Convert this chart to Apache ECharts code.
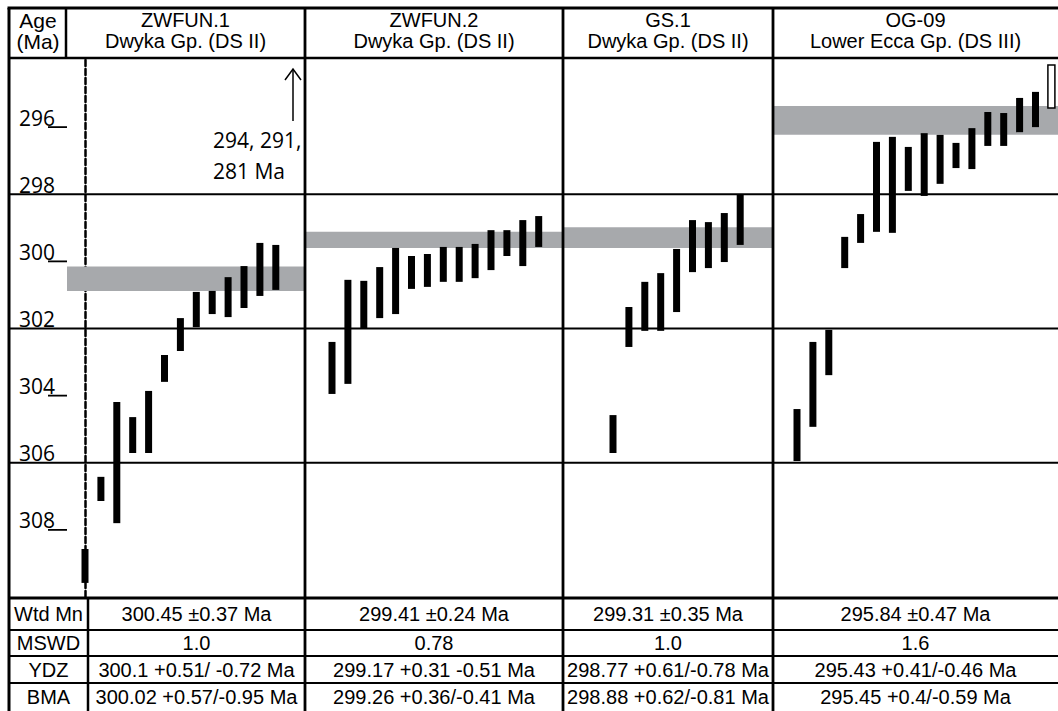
<!DOCTYPE html>
<html>
<head>
<meta charset="utf-8">
<script src="https://cdn.jsdelivr.net/npm/echarts@6/dist/echarts.min.js"></script>
<style>html,body{margin:0;padding:0;background:#fff;}#c{width:1058px;height:711px;}</style>
</head>
<body>
<div id="c"></div>
<script>
// ---------------- DATA ----------------
const panelNames = ['ZWFUN.1', 'ZWFUN.2', 'GS.1', 'OG-09'];
const panelUnits = ['Dwyka Gp. (DS II)', 'Dwyka Gp. (DS II)', 'Dwyka Gp. (DS II)', 'Lower Ecca Gp. (DS III)'];

// grain ages (Ma): young end / old end of each 2-sigma bar
const zw1Young = [308.57, 306.42, 304.19, 304.64, 303.86, 302.79, 301.69, 300.91, 300.88, 300.47, 300.14, 299.45, 299.51];
const zw1Old   = [309.58, 307.14, 307.80, 305.71, 305.71, 303.59, 302.67, 301.96, 301.57, 301.66, 301.39, 301.03, 300.85];

const zw2Young = [302.40, 300.55, 300.58, 300.17, 299.60, 299.84, 299.78, 299.57, 299.57, 299.48, 299.07, 299.07, 298.77, 298.65];
const zw2Old   = [303.95, 303.65, 301.99, 301.69, 301.57, 300.82, 300.76, 300.61, 300.61, 300.50, 300.26, 299.84, 300.14, 299.57];

const gs1Young = [304.58, 301.36, 300.61, 300.35, 299.63, 298.77, 298.83, 298.56, 298.02];
const gs1Old   = [305.71, 302.55, 302.07, 302.07, 301.51, 300.32, 300.20, 300.02, 299.51];

const og09Young = [304.40, 302.40, 302.04, 299.27, 298.59, 296.44, 296.29, 296.59, 296.18, 296.23, 296.47, 296.03, 295.55, 295.58, 295.13, 294.95, 294.15];
const og09Old   = [305.95, 304.93, 303.39, 300.20, 299.45, 299.12, 299.15, 297.90, 298.05, 297.69, 297.22, 297.25, 296.56, 296.56, 296.15, 296.00, 295.43];
// grains excluded from the weighted mean (drawn open)
const og09Excluded = [0, 0, 0, 0, 0, 0, 0, 0, 0, 0, 0, 0, 0, 0, 0, 0, 1];

// weighted-mean bands (Ma)
const bandYoung = [300.15, 299.12, 298.98, 295.37];
const bandOld   = [300.88, 299.60, 299.60, 296.23];

// age axis
const ageMin = 294, ageMax = 310;
const ageTicks = [296, 300, 304, 308];
const ageLabels = [296, 298, 300, 302, 304, 306, 308];
const ageGridLines = [298, 302, 306];

// summary table
const rowLabels = ['Wtd Mn', 'MSWD', 'YDZ', 'BMA'];
const wtdMean = ['300.45 ±0.37 Ma', '299.41 ±0.24 Ma', '299.31 ±0.35 Ma', '295.84 ±0.47 Ma'];
const mswd = ['1.0', '0.78', '1.0', '1.6'];
const ydz = ['300.1 +0.51/ -0.72 Ma', '299.17 +0.31 -0.51 Ma', '298.77 +0.61/-0.78 Ma', '295.43 +0.41/-0.46 Ma'];
const bma = ['300.02 +0.57/-0.95 Ma', '299.26 +0.36/-0.41 Ma', '298.88 +0.62/-0.81 Ma', '295.45 +0.4/-0.59 Ma'];

const offscaleNote = ['294, 291,', '281 Ma'];

// ---------------- LAYOUT ----------------
const L = 9, R = 1058, T = 8, HB = 58;
const tableRows = [598, 630, 656, 683, 711];
const labelColRight = 88;
const colEdges = [66, 305, 563, 773, 1058];
const gridLeft = [67, 305, 563, 773];
const gridWidth = [238, 258, 210, 285];
const firstBarPx = [18, 27, 50, 24];
const pitch = 15.9;
const plotTop = 60, plotH = 537;
const barW = 7;
const FONT = '"Liberation Sans", Arial, sans-serif';
const FONT2 = '"Open Sans", "Noto Sans", sans-serif';

const young = [zw1Young, zw2Young, gs1Young, og09Young];
const old = [zw1Old, zw2Old, gs1Old, og09Old];
const excl = [zw1Young.map(() => 0), zw2Young.map(() => 0), gs1Young.map(() => 0), og09Excluded];

const chart = echarts.init(document.getElementById('c'), null, { renderer: 'svg', width: 1058, height: 711 });

const grid = gridLeft.map((l, i) => ({ left: l, top: plotTop, width: gridWidth[i], height: plotH }));
const xAxis = gridLeft.map((l, i) => ({
  type: 'value', gridIndex: i, show: false,
  min: -firstBarPx[i] / pitch, max: (gridWidth[i] - firstBarPx[i]) / pitch
}));
const yAxis = gridLeft.map((l, i) => ({
  type: 'value', gridIndex: i, min: ageMin, max: ageMax, inverse: true, show: i === 0,
  axisLine: { show: true, lineStyle: { color: '#000', width: 2.5, type: [6, 3] } },
  axisTick: { show: false }, axisLabel: { show: false }, splitLine: { show: false }
}));

const series = [];
for (let i = 0; i < 4; i++) {
  series.push({
    type: 'custom', xAxisIndex: i, yAxisIndex: i, z: 1, silent: true,
    data: [[0, bandYoung[i], bandOld[i]]],
    encode: { x: 0, y: [1, 2] },
    renderItem: (params, api) => {
      const cs = params.coordSys;
      const y1 = api.coord([0, api.value(1)])[1];
      const y2 = api.coord([0, api.value(2)])[1];
      return { type: 'rect', shape: { x: cs.x, y: y1, width: cs.width, height: y2 - y1 }, style: { fill: '#a7a9ac' } };
    }
  });
  series.push({
    type: 'custom', xAxisIndex: i, yAxisIndex: i, z: 3, silent: true,
    data: young[i].map((y, j) => [j, y, old[i][j], excl[i][j]]),
    encode: { x: 0, y: [1, 2] },
    renderItem: (params, api) => {
      const p1 = api.coord([api.value(0), api.value(1)]);
      const p2 = api.coord([api.value(0), api.value(2)]);
      const open = api.value(3) === 1;
      return {
        type: 'rect',
        shape: { x: p1[0] - barW / 2, y: p1[1], width: barW, height: p2[1] - p1[1] },
        style: open ? { fill: '#fff', stroke: '#000', lineWidth: 1.5 } : { fill: '#000' }
      };
    }
  });
}
// horizontal age grid lines across the whole figure
series.push({
  type: 'custom', xAxisIndex: 0, yAxisIndex: 0, z: 2, silent: true,
  data: ageGridLines.map(v => [0, v]), encode: { x: 0, y: 1 },
  renderItem: (params, api) => {
    const y = api.coord([0, api.value(1)])[1];
    return { type: 'line', shape: { x1: L, y1: y, x2: R, y2: y }, style: { stroke: '#000', lineWidth: 2 } };
  }
});
// tick marks
series.push({
  type: 'custom', xAxisIndex: 0, yAxisIndex: 0, z: 2, silent: true,
  data: ageTicks.map(v => [0, v]), encode: { x: 0, y: 1 },
  renderItem: (params, api) => {
    const y = api.coord([0, api.value(1)])[1];
    return { type: 'line', shape: { x1: 48, y1: y, x2: gridLeft[0], y2: y }, style: { stroke: '#000', lineWidth: 1.8 } };
  }
});
// tick labels
series.push({
  type: 'custom', xAxisIndex: 0, yAxisIndex: 0, z: 2, silent: true,
  data: ageLabels.map(v => [0, v]), encode: { x: 0, y: 1 },
  renderItem: (params, api) => {
    const v = api.value(1);
    const y = api.coord([0, v])[1];
    return { type: 'text', x: 19, y: y + 1, style: { text: String(v), fontSize: 21, fontFamily: FONT2, align: 'left', verticalAlign: 'bottom', fill: '#000' } };
  }
});

// ---------------- FRAME, HEADER, TABLE ----------------
const g = [];
function line(x1, y1, x2, y2, w) {
  g.push({ type: 'line', silent: true, z: 10, shape: { x1, y1, x2, y2 }, style: { stroke: '#000', lineWidth: w || 2 } });
}
function text(x, y, t, opts) {
  g.push({ type: 'text', silent: true, z: 10, x, y, style: Object.assign({ text: t, fontSize: 20, fontFamily: FONT, align: 'center', verticalAlign: 'middle', fill: '#000' }, opts || {}) });
}
line(L - 1.5, T, R, T, 3);
line(L, T, L, 711, 3);
line(L, HB, R, HB, 2.5);
line(colEdges[0], T, colEdges[0], HB, 2.5);
for (let k = 1; k < 4; k++) line(colEdges[k], T, colEdges[k], 711, 2.8);
for (let r = 0; r < tableRows.length - 1; r++) line(L, tableRows[r], R, tableRows[r], r === 0 ? 2.8 : 2.2);
line(labelColRight, tableRows[0], labelColRight, 711, 2.5);

// header
text(38, 20, 'Age', { fontSize: 21 });
text(38, 41, '(Ma)', { fontSize: 21 });
for (let i = 0; i < 4; i++) {
  const cx = (colEdges[i] + colEdges[i + 1]) / 2;
  text(cx, 20, panelNames[i]);
  text(cx, 41, panelUnits[i]);
}
// table
const tableVals = [wtdMean, mswd, ydz, bma];
for (let r = 0; r < 4; r++) {
  const cy = (tableRows[r] + tableRows[r + 1]) / 2;
  text((L + labelColRight) / 2, cy, rowLabels[r]);
  for (let i = 0; i < 4; i++) {
    const left = i === 0 ? labelColRight : colEdges[i];
    text((left + colEdges[i + 1]) / 2, cy, tableVals[r][i]);
  }
}
// off-scale arrow note in first panel
g.push({ type: 'line', silent: true, z: 10, shape: { x1: 293, y1: 121, x2: 293, y2: 69 }, style: { stroke: '#000', lineWidth: 1.5 } });
g.push({ type: 'polyline', silent: true, z: 10, shape: { points: [[285, 80], [293, 69], [301, 80]] }, style: { stroke: '#000', lineWidth: 1.5, fill: null } });
text(213, 140, offscaleNote[0], { fontFamily: FONT2, fontSize: 21, align: 'left' });
text(213, 171, offscaleNote[1], { fontFamily: FONT2, fontSize: 21, align: 'left' });

chart.setOption({
  animation: false,
  backgroundColor: '#fff',
  grid, xAxis, yAxis, series,
  graphic: { elements: g }
});
</script>
</body>
</html>
